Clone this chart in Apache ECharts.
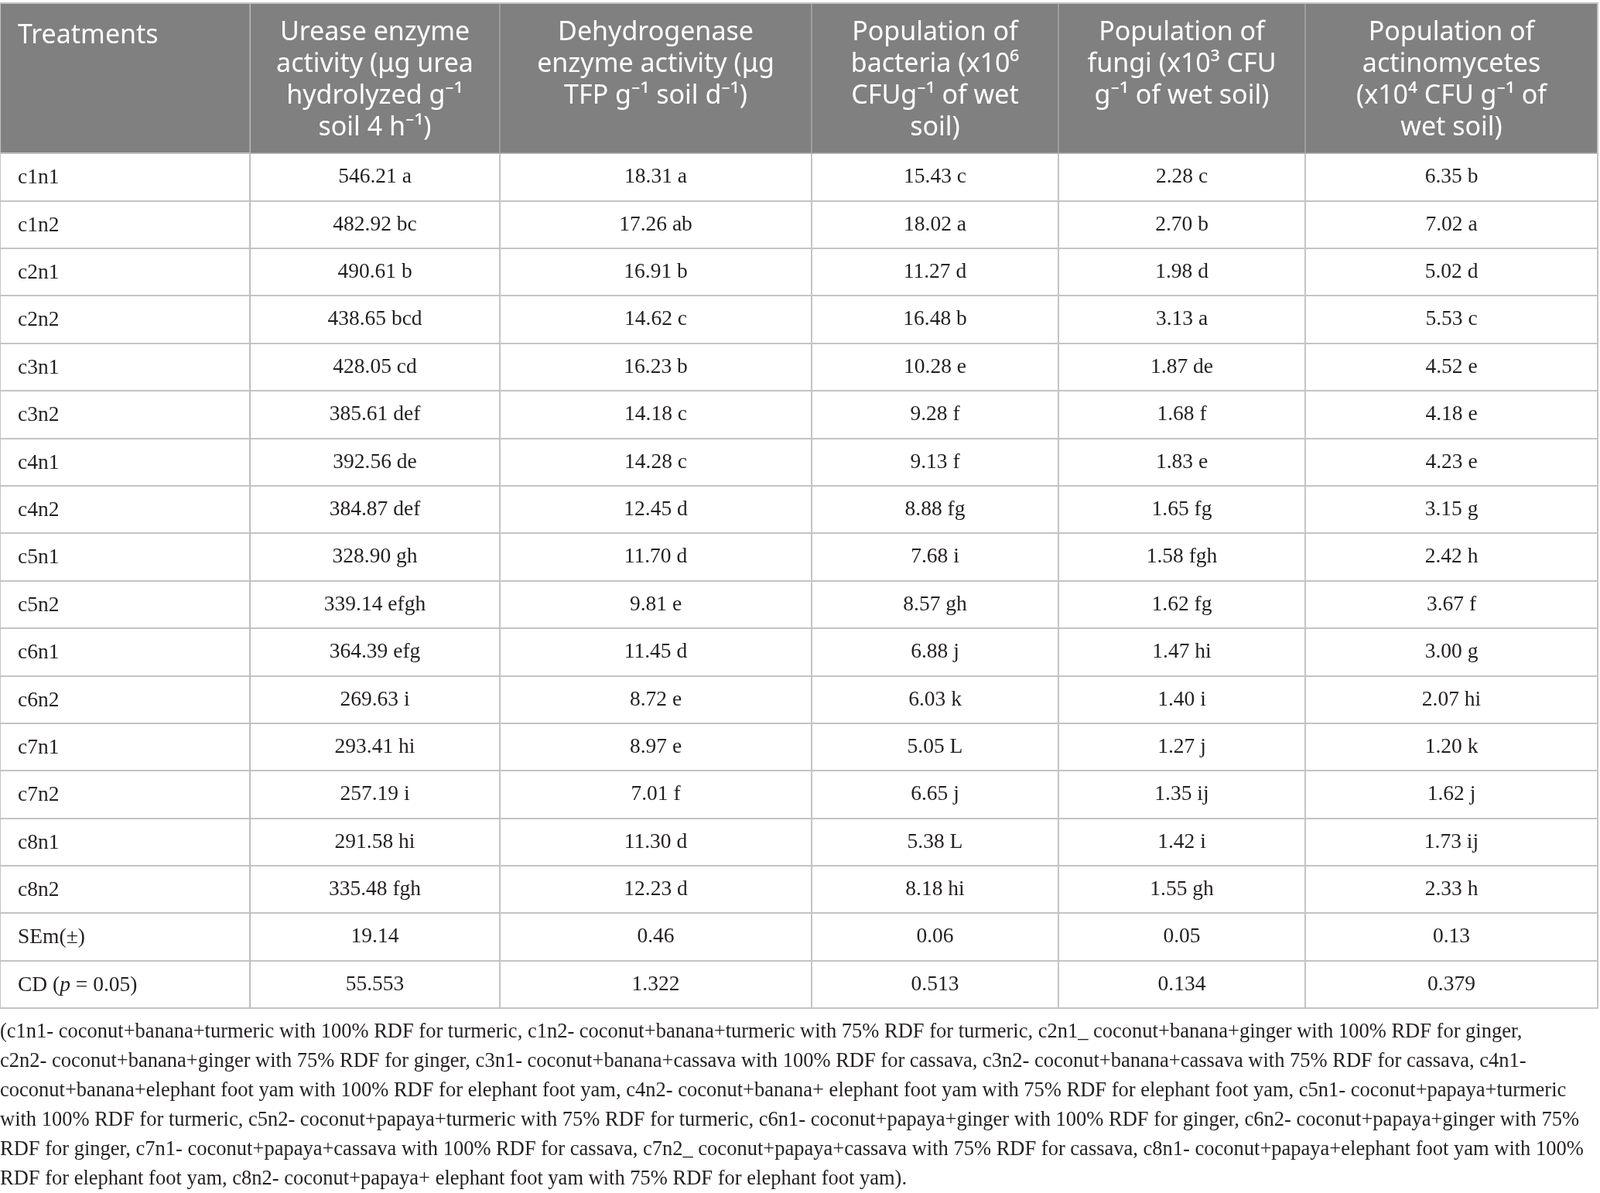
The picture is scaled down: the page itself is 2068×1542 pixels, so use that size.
<!DOCTYPE html>
<html>
<head>
<meta charset="utf-8">
<title>Soil enzyme activity and microbial population</title>
<script src="https://cdn.jsdelivr.net/npm/echarts@6.0.0/dist/echarts.min.js"></script>
<style>
    html, body { margin: 0; padding: 0; background: #fff; }
    #main { width: 2068px; height: 1542px; }
</style>
</head>
<body>
<div id="main"></div>
<script type="text/javascript">

    // row labels ({i|..} marks italic text)
    var treatments = ['c1n1', 'c1n2', 'c2n1', 'c2n2', 'c3n1', 'c3n2', 'c4n1', 'c4n2',
        'c5n1', 'c5n2', 'c6n1', 'c6n2', 'c7n1', 'c7n2', 'c8n1', 'c8n2', 'SEm(±)', 'CD ({i|p} = 0.05)'];

    // column headers
    var headers = [
        'Urease enzyme\nactivity (μg urea\nhydrolyzed g⁻¹\nsoil 4 h⁻¹)',
        'Dehydrogenase\nenzyme activity (μg\nTFP g⁻¹ soil d⁻¹)',
        'Population of\nbacteria (x10⁶\nCFUg⁻¹ of wet\nsoil)',
        'Population of\nfungi (x10³ CFU\ng⁻¹ of wet soil)',
        'Population of\nactinomycetes\n(x10⁴ CFU g⁻¹ of\nwet soil)'
    ];

    var urease = ['546.21 a', '482.92 bc', '490.61 b', '438.65 bcd', '428.05 cd', '385.61 def',
        '392.56 de', '384.87 def', '328.90 gh', '339.14 efgh', '364.39 efg', '269.63 i',
        '293.41 hi', '257.19 i', '291.58 hi', '335.48 fgh', '19.14', '55.553'];

    var dehydrogenase = ['18.31 a', '17.26 ab', '16.91 b', '14.62 c', '16.23 b', '14.18 c',
        '14.28 c', '12.45 d', '11.70 d', '9.81 e', '11.45 d', '8.72 e',
        '8.97 e', '7.01 f', '11.30 d', '12.23 d', '0.46', '1.322'];

    var bacteria = ['15.43 c', '18.02 a', '11.27 d', '16.48 b', '10.28 e', '9.28 f',
        '9.13 f', '8.88 fg', '7.68 i', '8.57 gh', '6.88 j', '6.03 k',
        '5.05 L', '6.65 j', '5.38 L', '8.18 hi', '0.06', '0.513'];

    var fungi = ['2.28 c', '2.70 b', '1.98 d', '3.13 a', '1.87 de', '1.68 f',
        '1.83 e', '1.65 fg', '1.58 fgh', '1.62 fg', '1.47 hi', '1.40 i',
        '1.27 j', '1.35 ij', '1.42 i', '1.55 gh', '0.05', '0.134'];

    var actinomycetes = ['6.35 b', '7.02 a', '5.02 d', '5.53 c', '4.52 e', '4.18 e',
        '4.23 e', '3.15 g', '2.42 h', '3.67 f', '3.00 g', '2.07 hi',
        '1.20 k', '1.62 j', '1.73 ij', '2.33 h', '0.13', '0.379'];

    var footnote = [
        '(c1n1- coconut+banana+turmeric with 100% RDF for turmeric, c1n2- coconut+banana+turmeric with 75% RDF for turmeric, c2n1_ coconut+banana+ginger with 100% RDF for ginger,',
        'c2n2- coconut+banana+ginger with 75% RDF for ginger, c3n1- coconut+banana+cassava with 100% RDF for cassava, c3n2- coconut+banana+cassava with 75% RDF for cassava, c4n1-',
        'coconut+banana+elephant foot yam with 100% RDF for elephant foot yam, c4n2- coconut+banana+ elephant foot yam with 75% RDF for elephant foot yam, c5n1- coconut+papaya+turmeric',
        'with 100% RDF for turmeric, c5n2- coconut+papaya+turmeric with 75% RDF for turmeric, c6n1- coconut+papaya+ginger with 100% RDF for ginger, c6n2- coconut+papaya+ginger with 75%',
        'RDF for ginger, c7n1- coconut+papaya+cassava with 100% RDF for cassava, c7n2_ coconut+papaya+cassava with 75% RDF for cassava, c8n1- coconut+papaya+elephant foot yam with 100%',
        'RDF for elephant foot yam, c8n2- coconut+papaya+ elephant foot yam with 75% RDF for elephant foot yam).'
    ];

    var colWidths = [323, 403, 319, 319, 378];

    var headerGray = '#808080';
    var lineGray = '#c4c4c4';
    var textColor = '#231f20';
    var serif = '"Liberation Serif", "Times New Roman", serif';
    var sans = '"Noto Sans", "Open Sans", sans-serif';

    var valueCols = [urease, dehydrogenase, bacteria, fungi, actinomycetes];
    var bodyData = [];
    valueCols.forEach(function (col, i) {
        col.forEach(function (v, j) {
            bodyData.push({ coord: [i, j], value: v });
        });
    });

    var chart = echarts.init(document.getElementById('main'));

    var option = {
        animation: false,
        backgroundColor: '#fff',
        title: {
            text: footnote.join('\n'),
            left: 0,
            top: 1315,
            padding: 0,
            textStyle: {
                fontFamily: serif,
                fontSize: 26.5,
                fontWeight: 'normal',
                lineHeight: 38,
                color: textColor
            }
        },
        matrix: {
            left: 0,
            top: 4,
            width: 2065,
            height: 1299,
            backgroundStyle: { color: '#fff', borderColor: lineGray, borderWidth: 2 },
            x: {
                data: headers.map(function (h, i) { return { value: h, size: colWidths[i] }; }),
                levelSize: 194,
                itemStyle: { color: headerGray, borderColor: '#a3a3a3', borderWidth: 1.5 },
                label: {
                    color: '#fff',
                    fontFamily: sans,
                    fontSize: 34,
                    lineHeight: 41,
                    position: 'insideTop',
                    distance: 16,
                    align: 'center'
                }
            },
            y: {
                data: treatments,
                levelSize: 323,
                itemStyle: { color: '#fff', borderColor: lineGray, borderWidth: 2 },
                label: {
                    color: textColor,
                    fontFamily: serif,
                    fontSize: 27.5,
                    lineHeight: 54,
                    padding: [5, 0, 0, 3],
                    position: [20, '50%'],
                    align: 'left',
                    verticalAlign: 'middle',
                    rich: {
                        i: { fontFamily: serif, fontSize: 27.5, lineHeight: 54, fontStyle: 'italic', color: textColor }
                    }
                }
            },
            corner: {
                data: [{ coord: [-1, -1], value: 'Treatments' }],
                itemStyle: { color: headerGray, borderColor: '#a3a3a3', borderWidth: 1.5 },
                label: {
                    color: '#fff',
                    fontFamily: sans,
                    fontSize: 34,
                    lineHeight: 41,
                    position: 'insideTopLeft',
                    distance: 20
                }
            },
            body: {
                data: bodyData,
                itemStyle: { color: '#fff', borderColor: lineGray, borderWidth: 2 },
                label: {
                    color: textColor,
                    fontFamily: serif,
                    fontSize: 27.5
                }
            }
        }
    };

    chart.setOption(option);

</script>
</body>
</html>
